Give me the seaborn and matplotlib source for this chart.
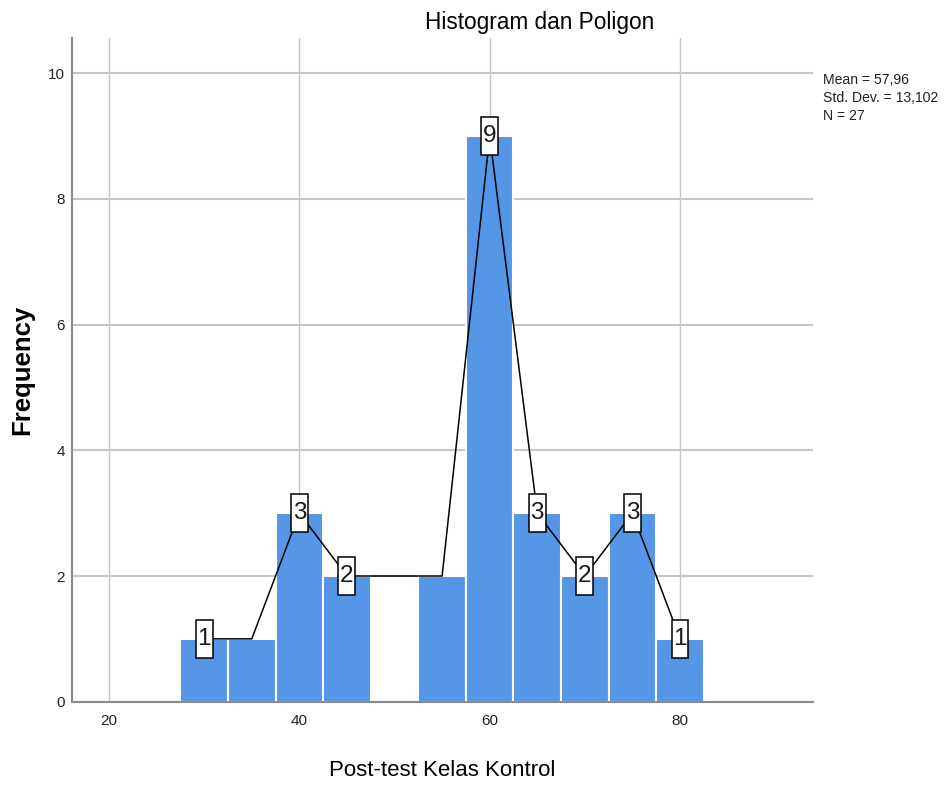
import numpy as np
import pandas as pd
import matplotlib
matplotlib.use('Agg')
import matplotlib.pyplot as plt
import seaborn as sns

# data: frekuensi tiap kelas (lebar kelas 5)
bin_centers = [30, 35, 40, 45, 50, 55, 60, 65, 70, 75, 80]
frequencies = [1, 1, 3, 2, 0, 2, 9, 3, 2, 3, 1]
labelled_bins = [30, 40, 45, 60, 65, 70, 75, 80]   # titik poligon yang diberi label
x_ticks = [20, 40, 60, 80]
y_ticks = [0, 2, 4, 6, 8, 10]
stats_lines = ['Mean = 57,96', 'Std. Dev. = 13,102', 'N = 27']

bar_color = '#5596E6'
grid_color = '#c6c6c6'

sns.set_theme(style='white')
plt.rcParams['font.family'] = ['Liberation Sans', 'DejaVu Sans']

df = pd.DataFrame({'nilai': bin_centers, 'frekuensi': frequencies})

fig = plt.figure(figsize=(9.45, 7.86), dpi=100)
ax = fig.add_axes([72 / 945, 1 - 701.7 / 786, (813 - 72) / 945, (701.7 - 37.7) / 786])

# histogram
sns.histplot(data=df, x='nilai', weights='frekuensi', binwidth=5, binrange=(27.5, 82.5),
             color=bar_color, edgecolor='white', linewidth=1.5, alpha=1, ax=ax)

# poligon frekuensi (kelas kosong dilewati)
poly = df[df['frekuensi'] > 0]
sns.lineplot(data=poly, x='nilai', y='frekuensi', sort=False, color='black',
             linewidth=1.1, ax=ax, zorder=4)

for c, f in zip(bin_centers, frequencies):
    if c in labelled_bins:
        ax.text(c, f, str(f), ha='center', va='center', fontsize=17.5, color='#1a1a1a',
                zorder=6,
                bbox=dict(boxstyle='square,pad=0.07', fc='white', ec='black', lw=1.1,
                          mutation_aspect=4.6))

ax.set_xlim(16.11, 93.97)
ax.set_ylim(0, 10.565)
ax.set_xticks(x_ticks)
ax.set_yticks(y_ticks)
ax.set_axisbelow(True)
ax.yaxis.grid(True, color=grid_color, linewidth=1.5)
ax.xaxis.grid(True, color=grid_color, linewidth=1.0)
ax.tick_params(axis='both', length=0, labelsize=11, colors='#222222')
ax.tick_params(axis='y', pad=5)
ax.tick_params(axis='x', pad=9)

for s in ['top', 'right']:
    ax.spines[s].set_visible(False)
for s in ['left', 'bottom']:
    ax.spines[s].set_color('#8a8a8a')
    ax.spines[s].set_linewidth(1.5)

ax.set_xlabel('Post-test Kelas Kontrol', fontsize=16, color='black')
ax.xaxis.set_label_coords(0.5, (701.7 - 770) / 664)
ax.xaxis.label.set_va('center')
ax.set_ylabel('Frequency', fontsize=18.5, fontweight='bold', color='black')
ax.yaxis.set_label_coords((22 - 72) / 741, 0.5)
ax.yaxis.label.set_va('center')

fig.text(539.5 / 945, 1 - 29.5 / 786, 'Histogram dan Poligon', ha='center', va='baseline',
         fontsize=16.3, color='black')

for i, line in enumerate(stats_lines):
    fig.text(822.7 / 945, 1 - (80.5 + 17.5 * i) / 786, line, ha='left', va='center',
             fontsize=10.1, color='#222222')

fig.savefig('out.png', dpi=100, facecolor='white')
